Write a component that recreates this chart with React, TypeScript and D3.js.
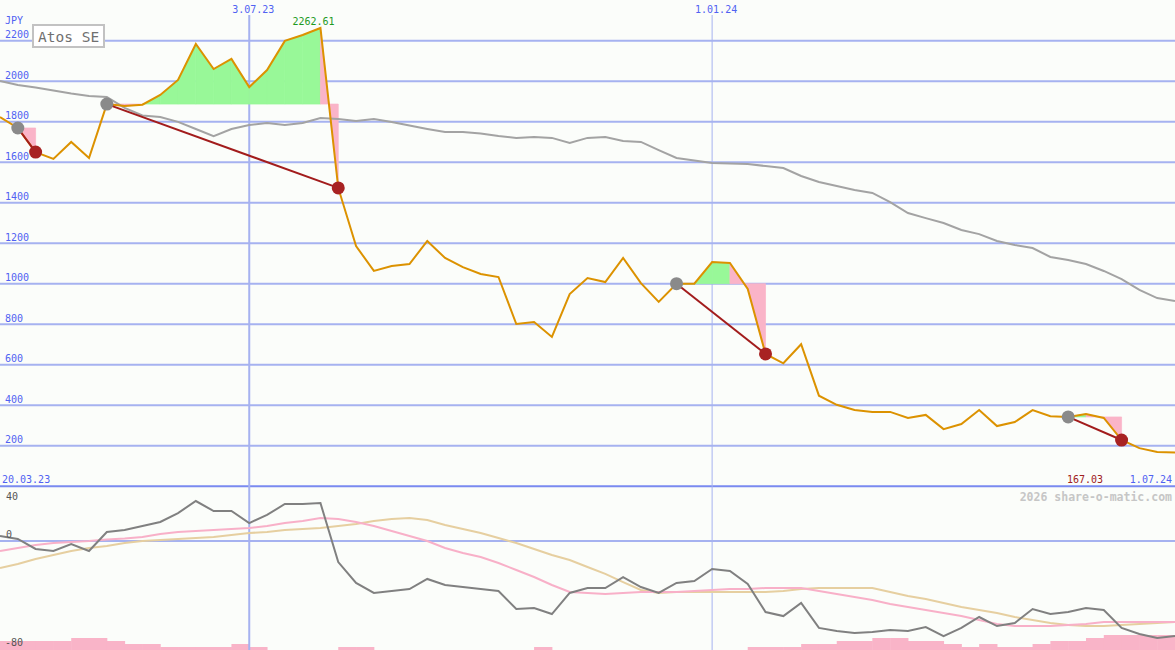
import * as d3 from "d3";

// weekly closes, JPY, from 27.03.23 to 1.07.24
const closePrices = [
  1823, 1769, 1650, 1616, 1700, 1621, 1887, 1877, 1884, 1932,
  2006, 2184, 2060, 2110, 1971, 2055, 2199, 2228, 2262.61, 1473,
  1186, 1063, 1087, 1097, 1211, 1127, 1082, 1048, 1033, 801,
  811, 737, 949, 1028, 1008, 1127, 1003, 910, 1000, 1000,
  1107, 1102, 974, 653, 607, 701, 447, 402, 376, 367,
  367, 337, 352, 282, 307, 376, 297, 317, 376, 346,
  342, 357, 337, 228, 188, 169, 167.03,
];

const longAverage = [
  2001, 1981, 1969, 1954, 1939, 1927, 1922, 1868, 1831, 1823,
  1799, 1764, 1729, 1764, 1784, 1794, 1784, 1794, 1818, 1813,
  1803, 1813, 1799, 1781, 1764, 1749, 1749, 1742, 1729, 1720,
  1724, 1720, 1695, 1720, 1724, 1705, 1700, 1660, 1621, 1608,
  1596, 1594, 1591, 1581, 1571, 1532, 1502, 1482, 1463, 1448,
  1403, 1349, 1324, 1300, 1265, 1245, 1211, 1191, 1176, 1132,
  1117, 1097, 1063, 1023, 969, 929, 915,
];

const momentum = [
  3.7, 1.5, -5.9, -7.4, -2.2, -7.4, 6.7, 8.1, 11.1, 14.1,
  20.7, 29.6, 22.2, 22.2, 13.3, 19.3, 27.4, 27.4, 28.1, -15.6,
  -31.1, -38.5, -37.0, -35.6, -28.1, -32.6, -34.1, -35.6, -37.0, -50.4,
  -49.6, -54.1, -38.5, -34.8, -34.8, -26.7, -34.1, -38.5, -31.1, -29.6,
  -20.7, -22.2, -31.9, -52.6, -55.6, -45.9, -64.4, -66.7, -68.1, -67.4,
  -65.9, -66.7, -63.7, -70.4, -64.4, -56.3, -63.0, -60.7, -50.4, -54.1,
  -52.6, -49.6, -51.1, -64.4, -68.9, -71.9, -70.4,
];

const signalFast = [
  -7.4, -5.2, -3.0, -1.5, -0.7, 0, 1.1, 1.9, 3.0, 5.2,
  6.7, 7.4, 8.1, 8.9, 9.6, 11.1, 13.3, 14.8, 17.0, 16.3,
  14.1, 11.1, 7.4, 3.7, 0, -5.2, -8.9, -11.9, -16.3, -21.5,
  -26.7, -32.6, -37.8, -38.5, -39.3, -38.5, -37.8, -37.8, -37.8, -37.0,
  -36.3, -35.6, -35.6, -34.8, -34.8, -34.8, -37.0, -39.3, -41.5, -43.7,
  -46.7, -48.9, -51.1, -53.3, -55.6, -58.5, -61.5, -63.0, -63.0, -63.0,
  -62.2, -61.5, -60.0, -60.0, -60.0, -60.0, -60.0,
];

const signalSlow = [
  -20.0, -17.0, -13.3, -10.4, -7.4, -5.2, -3.7, -1.5, 0, 0.7,
  1.5, 2.2, 3.0, 4.4, 5.9, 6.7, 8.1, 8.9, 9.6, 11.1,
  12.6, 14.8, 16.3, 17.0, 15.6, 11.9, 8.9, 5.9, 2.2, -1.5,
  -5.9, -10.4, -14.1, -19.3, -24.4, -30.4, -36.3, -38.5, -37.8, -37.8,
  -37.8, -37.8, -37.8, -37.8, -37.0, -35.6, -34.8, -34.8, -34.8, -34.8,
  -37.8, -40.7, -43.0, -45.9, -48.9, -51.1, -53.3, -56.3, -58.5, -60.7,
  -62.2, -63.0, -63.0, -62.2, -61.5, -60.7, -60.0,
];

// relative weekly volume, one bar per week interval
const volumeLevels = [
  3, 3, 3, 3, 4, 4, 3, 2, 2, 1,
  1, 1, 1, 2, 1, 0, 0, 0, 0, 1,
  1, 0, 0, 0, 0, 0, 0, 0, 0, 0,
  1, 0, 0, 0, 0, 0, 0, 0, 0, 0,
  0, 0, 1, 1, 1, 2, 2, 3, 3, 4,
  4, 3, 3, 2, 1, 2, 1, 1, 2, 3,
  3, 4, 5, 5, 5, 5,
];

// trades: week index of buy and of sell
const buyWeeks = [1, 6, 38, 60];
const sellWeeks = [2, 19, 43, 63];

const priceTicks = [200, 400, 600, 800, 1000, 1200, 1400, 1600, 1800, 2000, 2200];
const dateTicks = [new Date(2023, 6, 3), new Date(2024, 0, 1)];

const W = 1175;
const H = 650;
const FONT = "DejaVu Sans Mono";
const GRID = "#a6b2f0";
const AXIS = "#7a8af0";
const LABEL = "#5062f2";

const START = new Date(2023, 2, 27);
const END = new Date(2024, 6, 1);
const weeks = d3.timeMonday.range(START, d3.timeDay.offset(END, 1));

const fmtDate = (d: Date) => `${d.getDate()}.${d3.timeFormat("%m.%y")(d)}`;

export default function App() {
  const x = d3.scaleTime().domain([START, END]).range([0, W]);
  const yP = d3.scaleLinear().domain([0, 2200]).range([486.2, 40.7]);
  const yI = d3.scaleLinear().domain([-80, 40]).range([649, 487]);
  const yV = d3.scaleLinear().domain([0, 5]).range([H, H - 15]);

  const xi = (i: number) => x(weeks[i]);
  const priceLine = d3.line<number>().x((_, i) => xi(i)).y(d => yP(d));
  const indLine = d3.line<number>().x((_, i) => xi(i)).y(d => yI(d));

  // fills between entry level and price for each trade segment
  const fills: { d: string; color: string }[] = [];
  buyWeeks.forEach((b, t) => {
    const level = closePrices[b];
    for (let k = b; k < sellWeeks[t]; k++) {
      const pts: [number, number][] = [
        [xi(k), yP(level)],
        [xi(k), yP(closePrices[k])],
        [xi(k + 1), yP(closePrices[k + 1])],
        [xi(k + 1), yP(level)],
      ];
      fills.push({
        d: (d3.line()(pts) || "") + "Z",
        color: closePrices[k + 1] >= level ? "#98f898" : "#fab4c8",
      });
    }
  });

  const maxIdx = d3.maxIndex(closePrices);
  const last = closePrices[closePrices.length - 1];

  return (
    <svg
      width={W}
      height={H}
      style={{ position: "absolute", left: 0, top: 0, background: "#fbfdfa" }}
      fontFamily={FONT}
    >
      <rect width={W} height={H} fill="#fbfdfa" />

      {/* volume bars */}
      {volumeLevels.map((v, i) =>
        v > 0 ? (
          <rect
            key={"v" + i}
            x={xi(i)}
            y={yV(v)}
            width={xi(i + 1) - xi(i) + 0.5}
            height={H - yV(v)}
            fill="#f9b4c8"
          />
        ) : null
      )}

      {/* horizontal price grid */}
      {priceTicks.map(t => (
        <line key={"g" + t} x1={0} x2={W} y1={yP(t)} y2={yP(t)} stroke={GRID} strokeWidth={2} />
      ))}
      <line x1={0} x2={W} y1={yI(0)} y2={yI(0)} stroke={GRID} strokeWidth={2} />
      <line x1={0} x2={W} y1={yP(0)} y2={yP(0)} stroke={AXIS} strokeWidth={2} />

      {/* vertical date lines */}
      {dateTicks.map((d, i) => (
        <line
          key={"dl" + i}
          x1={x(d)}
          x2={x(d)}
          y1={15}
          y2={H}
          stroke={GRID}
          strokeWidth={i === 0 ? 2 : 1}
        />
      ))}

      {/* trade fills */}
      {fills.map((f, i) => (
        <path key={"f" + i} d={f.d} fill={f.color} stroke={f.color} strokeWidth={0.7} />
      ))}

      {/* long average and price */}
      <path d={priceLine(longAverage) || ""} fill="none" stroke="#a3a3a3" strokeWidth={2} />
      <path d={priceLine(closePrices) || ""} fill="none" stroke="#dc9200" strokeWidth={2} />

      {/* trade connectors and markers */}
      {buyWeeks.map((b, t) => (
        <line
          key={"tl" + t}
          x1={xi(b)}
          y1={yP(closePrices[b])}
          x2={xi(sellWeeks[t])}
          y2={yP(closePrices[sellWeeks[t]])}
          stroke="#a21c1c"
          strokeWidth={2}
        />
      ))}
      {buyWeeks.map((b, t) => (
        <circle key={"bc" + t} cx={xi(b)} cy={yP(closePrices[b])} r={6.5} fill="#8a8a8a" />
      ))}
      {sellWeeks.map((s, t) => (
        <circle key={"sc" + t} cx={xi(s)} cy={yP(closePrices[s])} r={6.5} fill="#a82222" />
      ))}

      {/* indicator panel lines */}
      <path d={indLine(signalSlow) || ""} fill="none" stroke="#e6cfa0" strokeWidth={2} />
      <path d={indLine(signalFast) || ""} fill="none" stroke="#f8b0c8" strokeWidth={2} />
      <path d={indLine(momentum) || ""} fill="none" stroke="#808080" strokeWidth={2} />

      {/* price axis labels */}
      <g fontSize={10} fill={LABEL}>
        <text x={5} y={24}>JPY</text>
        {priceTicks.map(t => (
          <text key={"pl" + t} x={5} y={yP(t) - 2.5}>
            {t}
          </text>
        ))}
        {dateTicks.map((d, i) => (
          <text key={"dt" + i} x={x(d) + 4} y={13} textAnchor="middle">
            {fmtDate(d)}
          </text>
        ))}
        <text x={2} y={483}>20.03.23</text>
        <text x={1172} y={483} textAnchor="end">{fmtDate(END)}</text>
      </g>

      <text x={1103} y={483} fontSize={10} fill="#a02020" textAnchor="end">
        {last.toFixed(2)}
      </text>
      <text x={xi(maxIdx) - 7} y={25} fontSize={10} fill="#1f9a1f" textAnchor="middle">
        {closePrices[maxIdx].toFixed(2)}
      </text>

      {/* indicator labels */}
      <g fontSize={10} fill="#555">
        <text x={6} y={499.5}>40</text>
        <text x={6} y={537.5}>0</text>
        <text x={5} y={645.5}>-80</text>
      </g>

      <text x={1172} y={501} fontSize={11.5} fontWeight="bold" fill="#c6c6c6" textAnchor="end">
        2026 share-o-matic.com
      </text>

      {/* title box */}
      <rect x={33} y={25} width={71} height={22} fill="#ffffff" stroke="#c2c2c2" strokeWidth={2} />
      <text x={38} y={41.5} fontSize={14.5} fill="#707070">
        Atos SE
      </text>
    </svg>
  );
}
